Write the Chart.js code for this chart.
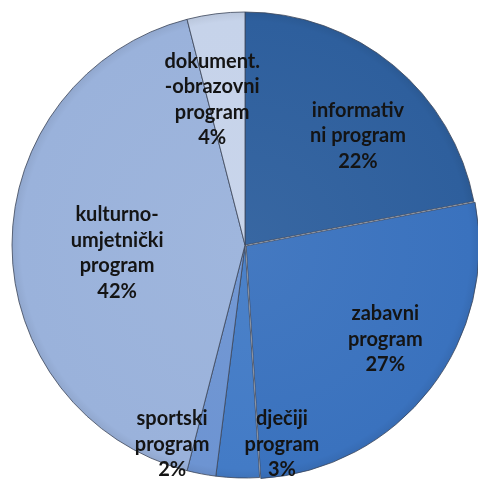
<!DOCTYPE html>
<html>
<head>
<meta charset="utf-8">
<script src="https://cdn.jsdelivr.net/npm/chart.js@4.4.1/dist/chart.umd.min.js"></script>
<style>
html,body{margin:0;padding:0;background:#fff;}
#wrap{width:478px;height:481px;position:relative;}
</style>
</head>
<body>
<div id="wrap"><canvas id="c" width="478" height="481"></canvas></div>
<script>
// Data
const categories = [
  ["informativ", "ni program"],
  ["zabavni", "program"],
  ["dječiji", "program"],
  ["sportski", "program"],
  ["kulturno-", "umjetnički", "program"],
  ["dokument.", "-obrazovni", "program"]
];
const shares = [22, 27, 3, 2, 42, 4];

// Styles
const sliceColors = ["#2e5f9d", "#3a72be", "#437bc6", "#6d94d2", "#9ab2db", "#c6d3ea"];
const sliceOffsets = [0, 6, 0, 0, 0, 0];
// label placement: [angle nudge in degrees, radius fraction]
const labelPlacement = [[6.4, 0.674], [-4, 0.70], [-12.3, 0.87], [9.3, 0.91], [-3.6, 0.55], [-5.5, 0.64]];

function shade(hex, f) {
  const n = parseInt(hex.slice(1), 16);
  let r = n >> 16, g = (n >> 8) & 255, b = n & 255;
  if (f >= 0) { r += (255 - r) * f; g += (255 - g) * f; b += (255 - b) * f; }
  else { r *= 1 + f; g *= 1 + f; b *= 1 + f; }
  return `rgb(${Math.round(r)},${Math.round(g)},${Math.round(b)})`;
}

function sliceFill(context) {
  const chart = context.chart;
  const i = context.dataIndex;
  const base = sliceColors[i];
  const arc = chart.getDatasetMeta(0).data[i];
  if (!arc || !chart.chartArea) return base;
  const x = (chart.chartArea.left + chart.chartArea.right) / 2;
  const y = (chart.chartArea.top + chart.chartArea.bottom) / 2;
  const R = 233;
  const g = chart.ctx.createRadialGradient(x, y, 0, x, y, R + 8);
  g.addColorStop(0, shade(base, 0.05));
  g.addColorStop(0.93, base);
  g.addColorStop(1, shade(base, -0.12));
  return g;
}

const labelPlugin = {
  id: 'sliceLabels',
  afterDatasetsDraw(chart) {
    const ctx = chart.ctx;
    const meta = chart.getDatasetMeta(0);
    const ds = chart.data.datasets[0];
    ctx.save();
    ctx.font = "bold 20px Lato, 'Open Sans', sans-serif";
    ctx.fillStyle = "#141414";
    ctx.textAlign = "center";
    ctx.textBaseline = "middle";
    const lineH = 25.5;
    meta.data.forEach((arc, i) => {
      const p = arc.getProps(['x', 'y', 'startAngle', 'endAngle', 'outerRadius'], true);
      const mid = (p.startAngle + p.endAngle) / 2;
      const off = sliceOffsets[i];
      const cx = p.x + Math.cos(mid) * off;
      const cy = p.y + Math.sin(mid) * off;
      const a = mid + labelPlacement[i][0] * Math.PI / 180;
      const r = p.outerRadius * labelPlacement[i][1];
      const lx = cx + Math.cos(a) * r;
      const ly = cy + Math.sin(a) * r;
      const lines = categories[i].concat([ds.data[i] + "%"]);
      const y0 = ly - (lines.length - 1) * lineH / 2;
      lines.forEach((t, k) => ctx.fillText(t, lx, y0 + k * lineH));
    });
    ctx.restore();
  }
};

new Chart(document.getElementById('c'), {
  type: 'pie',
  data: {
    labels: categories.map(c => c.join(' ')),
    datasets: [{
      data: shares,
      backgroundColor: sliceFill,
      borderColor: 'rgba(60,70,90,0.8)',
      borderWidth: 1,
      offset: sliceOffsets,
      radius: 233,
      clip: false
    }]
  },
  options: {
    responsive: false,
    animation: false,
    rotation: 0,
    layout: { padding: { left: 12, top: 9, right: 0, bottom: 0 } },
    plugins: { legend: { display: false }, tooltip: { enabled: false } }
  },
  plugins: [labelPlugin]
});
</script>
</body>
</html>
